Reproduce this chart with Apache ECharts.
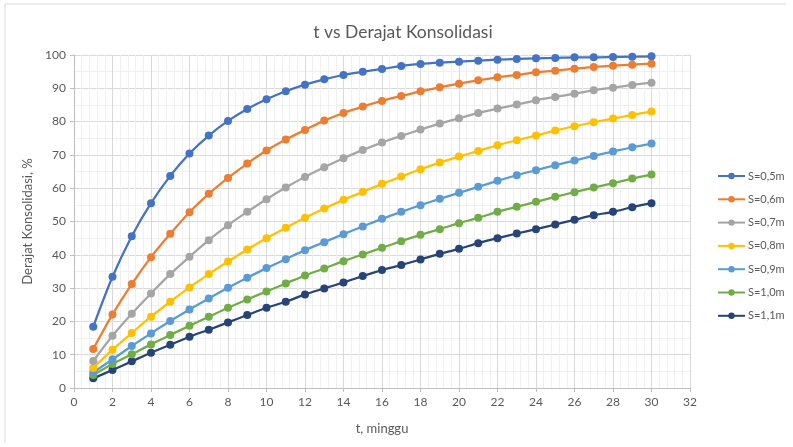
<!DOCTYPE html>
<html>
<head>
<meta charset="utf-8">
<script src="https://cdn.jsdelivr.net/npm/echarts@6/dist/echarts.min.js"></script>
<style>
  html, body { margin: 0; padding: 0; background: #fff; }
  #chart { width: 793px; height: 447px; }
</style>
</head>
<body>
<div id="chart"></div>
<script>
// Time in weeks
const weeks = [1,2,3,4,5,6,7,8,9,10,11,12,13,14,15,16,17,18,19,20,21,22,23,24,25,26,27,28,29,30];

// Degree of consolidation (%) for each drain spacing S
const s05 = [18.4,33.4,45.6,55.5,63.7,70.4,75.8,80.2,83.8,86.7,89.1,91.1,92.7,94.0,95.0,95.8,96.7,97.3,97.7,98.0,98.3,98.6,98.8,99.0,99.1,99.3,99.3,99.4,99.5,99.6];
const s06 = [11.7,22.1,31.2,39.3,46.3,52.8,58.3,63.1,67.4,71.3,74.6,77.5,80.3,82.6,84.5,86.2,87.7,89.1,90.3,91.4,92.4,93.3,94.0,94.8,95.3,95.9,96.4,96.8,97.1,97.4];
const s07 = [8.1,15.7,22.3,28.4,34.2,39.4,44.4,48.9,52.9,56.7,60.2,63.4,66.3,69.0,71.5,73.7,75.7,77.6,79.4,81.0,82.6,83.9,85.1,86.4,87.4,88.4,89.4,90.2,91.0,91.7];
const s08 = [6.0,11.5,16.5,21.4,25.9,30.2,34.2,38.0,41.6,45.0,48.1,51.1,53.9,56.5,58.9,61.3,63.5,65.7,67.7,69.5,71.2,72.9,74.4,75.8,77.3,78.6,79.8,80.9,82.0,83.0];
const s09 = [4.7,8.6,12.6,16.4,20.1,23.6,26.9,30.1,33.1,36.0,38.7,41.4,43.8,46.2,48.5,50.8,52.9,54.9,56.8,58.6,60.4,62.2,63.9,65.4,66.9,68.3,69.7,71.0,72.3,73.4];
const s10 = [3.9,7.2,10.1,13.1,15.9,18.7,21.4,24.1,26.6,29.0,31.4,33.8,35.9,38.1,40.1,42.1,44.1,46.0,47.7,49.5,51.1,52.9,54.4,55.9,57.4,58.8,60.2,61.5,62.9,64.1];
const s11 = [2.9,5.4,8.0,10.6,13.0,15.4,17.5,19.7,21.9,24.1,25.9,28.1,29.9,31.7,33.6,35.4,36.9,38.6,40.3,41.8,43.5,45.0,46.4,47.7,49.1,50.5,51.9,52.9,54.3,55.5];

const seriesNames = ['S=0,5m','S=0,6m','S=0,7m','S=0,8m','S=0,9m','S=1,0m','S=1,1m'];
const seriesValues = [s05, s06, s07, s08, s09, s10, s11];
const seriesColors = ['#4472C4','#ED7D31','#A5A5A5','#FFC000','#5B9BD5','#70AD47','#264478'];

const FONT = 'Lato, "Open Sans", sans-serif';
const TEXT = '#595959';

const chart = echarts.init(document.getElementById('chart'), null, { renderer: 'canvas' });

chart.setOption({
  backgroundColor: '#ffffff',
  animation: false,
  title: {
    text: 't vs Derajat Konsolidasi',
    left: 398,
    textAlign: 'center',
    top: 18,
    textStyle: { fontFamily: FONT, fontSize: 17.5, fontWeight: 'normal', color: TEXT }
  },
  graphic: [
    { type: 'line', shape: { x1: 5, y1: 4, x2: 5, y2: 443 }, style: { stroke: '#d9d9d9', lineWidth: 1 } },
    { type: 'line', shape: { x1: 5, y1: 4, x2: 786, y2: 4 }, style: { stroke: '#d9d9d9', lineWidth: 1 } }
  ],
  grid: { left: 74, right: 103, top: 55, bottom: 59, containLabel: false },
  legend: {
    orient: 'vertical',
    left: 712,
    top: 164,
    itemWidth: 27,
    itemHeight: 8,
    itemGap: 9.3,
    textStyle: { fontFamily: FONT, fontSize: 11, color: TEXT, lineHeight: 14, padding: [0, 0, 0, -2] },
    data: seriesNames
  },
  xAxis: {
    type: 'value',
    min: 0, max: 32, interval: 2,
    name: 't, minggu',
    nameLocation: 'middle',
    nameGap: 34,
    nameTextStyle: { fontFamily: FONT, fontSize: 13, color: TEXT },
    axisLine: { show: true, lineStyle: { color: '#bfbfbf' } },
    axisTick: { show: true, length: 4, lineStyle: { color: '#bfbfbf' } },
    axisLabel: { fontFamily: FONT, fontSize: 12, color: TEXT, margin: 8 },
    splitLine: { show: true, lineStyle: { color: '#d9d9d9' } },
    minorTick: { show: false, splitNumber: 5 },
    minorSplitLine: { show: true, lineStyle: { color: '#f0f0f0' } }
  },
  yAxis: {
    type: 'value',
    min: 0, max: 100, interval: 10,
    name: 'Derajat Konsolidasi, %',
    nameLocation: 'middle',
    nameGap: 33,
    nameTextStyle: { fontFamily: FONT, fontSize: 13, color: TEXT },
    axisLine: { show: true, lineStyle: { color: '#bfbfbf' } },
    axisTick: { show: true, length: 4, lineStyle: { color: '#bfbfbf' } },
    axisLabel: { fontFamily: FONT, fontSize: 12, color: TEXT, margin: 8 },
    splitLine: { show: true, lineStyle: { color: '#d9d9d9' } },
    minorTick: { show: false, splitNumber: 2 },
    minorSplitLine: { show: true, lineStyle: { color: '#f0f0f0' } }
  },
  series: seriesNames.map((name, i) => ({
    name: name,
    type: 'line',
    data: weeks.map((t, j) => [t, seriesValues[i][j]]),
    smooth: 0.3,
    symbol: 'circle',
    symbolSize: 8,
    showSymbol: true,
    color: seriesColors[i],
    lineStyle: { width: 2.25, color: seriesColors[i] },
    itemStyle: { color: seriesColors[i] },
    z: 10 - i
  }))
});
</script>
</body>
</html>
